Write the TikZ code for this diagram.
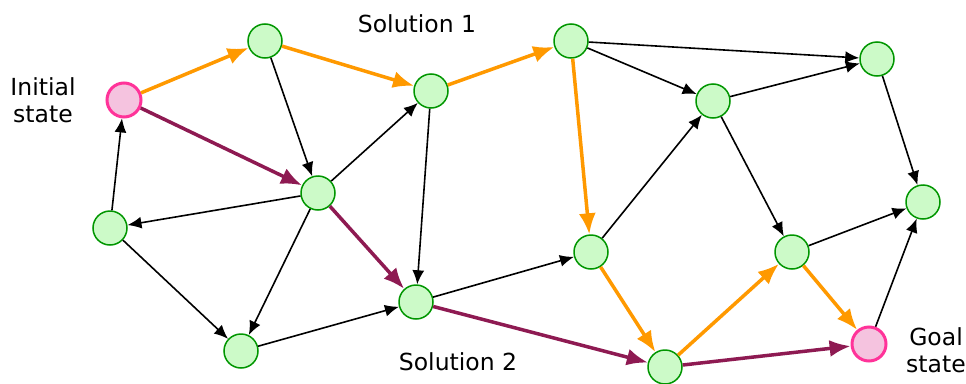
\documentclass[tikz,border=0pt]{standalone}
\usepackage{fontspec}
\setmainfont{DejaVu Sans}
\usetikzlibrary{arrows.meta}
\definecolor{nodefill}{RGB}{204,250,200}
\definecolor{nodeline}{RGB}{0,150,0}
\definecolor{endfill}{RGB}{245,195,223}
\definecolor{endline}{RGB}{255,51,153}
\definecolor{solone}{RGB}{255,153,0}
\definecolor{soltwo}{RGB}{142,26,82}
\tikzset{
  state/.style={circle,draw=nodeline,fill=nodefill,line width=1.5pt,minimum size=34pt,inner sep=0pt},
  endstate/.style={state,draw=endline,fill=endfill,line width=3pt},
  plain/.style={-{Latex[length=14pt,width=12pt]},line width=1.6pt},
  pathone/.style={-{Latex[length=21pt,width=17pt]},line width=3.5pt,solone},
  pathtwo/.style={-{Latex[length=21pt,width=17pt]},line width=3.5pt,soltwo},
  caption/.style={font=\fontsize{23.5}{27}\selectfont,align=center}
}
\begin{document}
\begin{tikzpicture}[x=1pt,y=-1pt]
  \useasboundingbox (0,0) rectangle (966,383);
  % states
  \node[endstate] (init) at (124,100) {};
  \node[state] (a) at (265,41) {};
  \node[state] (b) at (431,91) {};
  \node[state] (c) at (571,41) {};
  \node[state] (d) at (877,59) {};
  \node[state] (e) at (713,101) {};
  \node[state] (f) at (318,193) {};
  \node[state] (g) at (110,228) {};
  \node[state] (h) at (923,202) {};
  \node[state] (i) at (591,252) {};
  \node[state] (j) at (792,252) {};
  \node[state] (k) at (416,302) {};
  \node[state] (l) at (241,351) {};
  \node[state] (m) at (665,367) {};
  \node[endstate] (goal) at (869,344) {};
  % labels
  \node[caption] (initlbl) at (43,100) {Initial\\state};
  \node[caption] (goallbl) at (936,350) {Goal\\state};
  \node[caption] (sol1) at (417,24) {Solution 1};
  \node[caption] (sol2) at (458,362) {Solution 2};
  % other moves
  \draw[plain] (a) -- (f);
  \draw[plain] (f) -- (b);
  \draw[plain] (b) -- (k);
  \draw[plain] (c) -- (d);
  \draw[plain] (c) -- (e);
  \draw[plain] (e) -- (d);
  \draw[plain] (d) -- (h);
  \draw[plain] (e) -- (j);
  \draw[plain] (i) -- (e);
  \draw[plain] (j) -- (h);
  \draw[plain] (k) -- (i);
  \draw[plain] (f) -- (g);
  \draw[plain] (g) -- (init);
  \draw[plain] (g) -- (l);
  \draw[plain] (f) -- (l);
  \draw[plain] (l) -- (k);
  \draw[plain] (goal) -- (h);
  % solution 1
  \draw[pathone] (init) -- (a);
  \draw[pathone] (a) -- (b);
  \draw[pathone] (b) -- (c);
  \draw[pathone] (c) -- (i);
  \draw[pathone] (i) -- (m);
  \draw[pathone] (m) -- (j);
  \draw[pathone] (j) -- (goal);
  % solution 2
  \draw[pathtwo] (init) -- (f);
  \draw[pathtwo] (f) -- (k);
  \draw[pathtwo] (k) -- (m);
  \draw[pathtwo] (m) -- (goal);
\end{tikzpicture}
\end{document}
